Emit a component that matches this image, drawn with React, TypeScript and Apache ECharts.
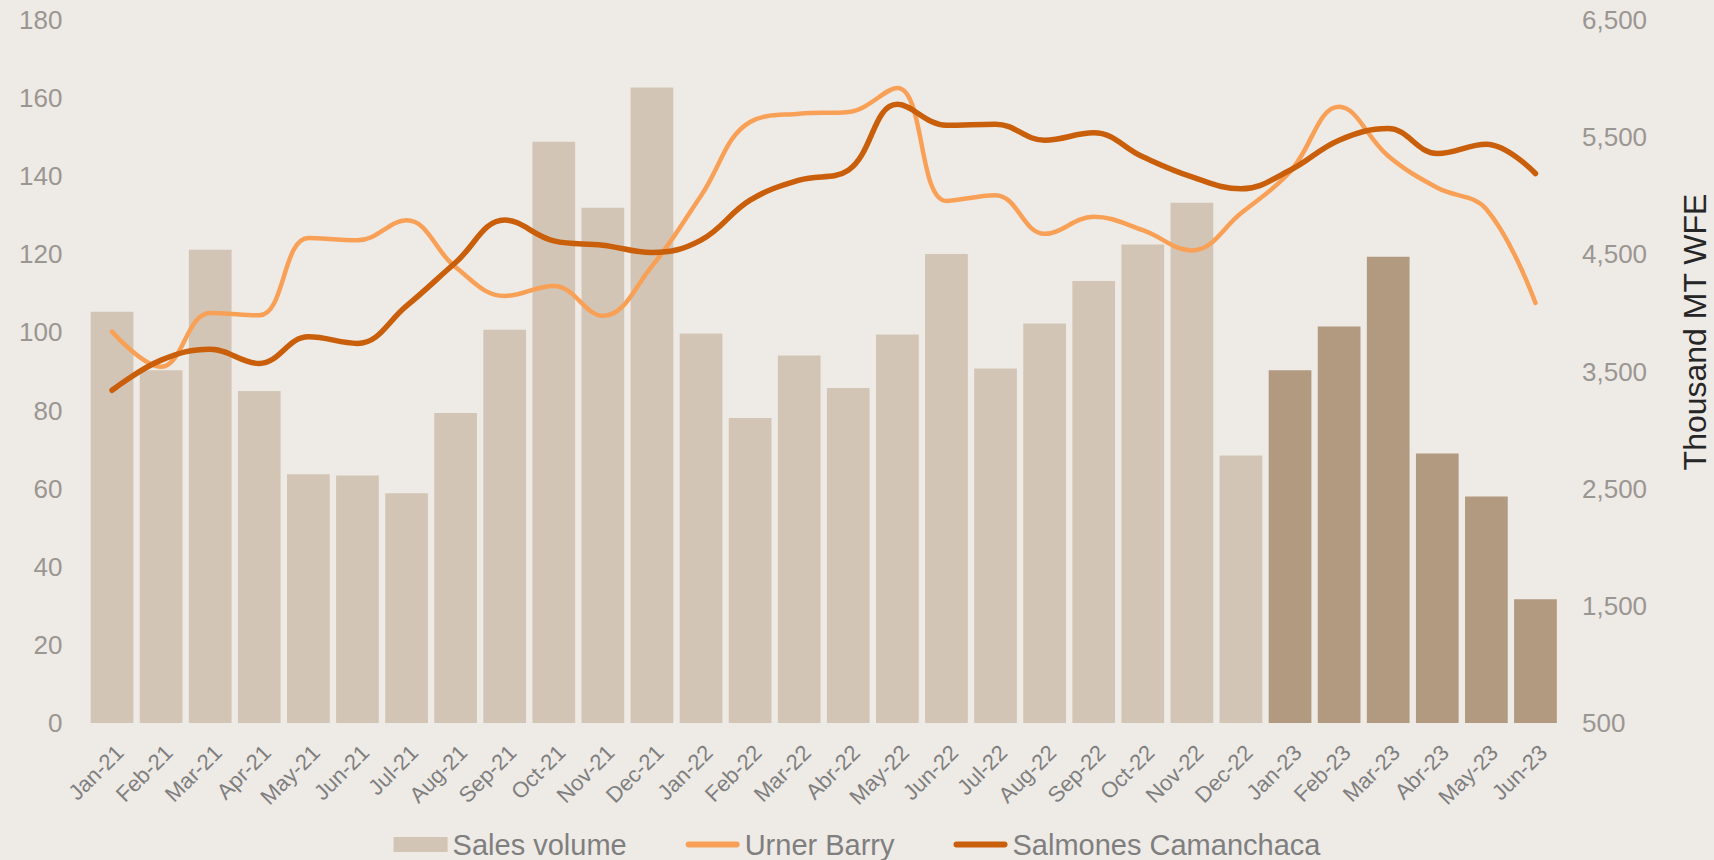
import React, { useEffect, useRef } from "react";
import * as echarts from "echarts";

const categories = [
  "Jan-21", "Feb-21", "Mar-21", "Apr-21", "May-21", "Jun-21", "Jul-21", "Aug-21", "Sep-21", "Oct-21", "Nov-21", "Dec-21",
  "Jan-22", "Feb-22", "Mar-22", "Abr-22", "May-22", "Jun-22", "Jul-22", "Aug-22", "Sep-22", "Oct-22", "Nov-22", "Dec-22",
  "Jan-23", "Feb-23", "Mar-23", "Abr-23", "May-23", "Jun-23",
];

const salesVolume = [
  105.3, 90.3, 121.2, 85.0, 63.7, 63.4, 58.8, 79.4, 100.7, 148.8, 131.9, 162.7,
  99.7, 78.1, 94.1, 85.8, 99.5, 120.1, 90.8, 102.3, 113.2, 122.5, 133.2, 68.5,
  90.3, 101.5, 119.4, 69.0, 58.0, 31.7,
];

const urnerBarry = [
  3840, 3540, 4000, 3980, 4640, 4620, 4790, 4390, 4145, 4230, 3975, 4400,
  5000, 5630, 5700, 5715, 5920, 4955, 5005, 4675, 4820, 4706, 4533, 4850,
  5205, 5760, 5340, 5068, 4885, 4085,
];

const salmonesCamanchaca = [
  3340, 3597, 3690, 3569, 3796, 3740, 4060, 4430, 4792, 4615, 4578, 4516,
  4621, 4962, 5133, 5218, 5780, 5602, 5611, 5474, 5537, 5332, 5161, 5059,
  5218, 5474, 5573, 5361, 5440, 5190,
];

// first index of the darker (2023) bars
const highlightFrom = 24;

const FONT = "'Liberation Sans', Arial, sans-serif";
const LIGHT_BAR = "#D3C5B5";
const DARK_BAR = "#B19A80";
const LIGHT_LINE = "#F9A057";
const DARK_LINE = "#C95F0A";
const LINE_ICON = "path://M3,0 H51 A3,3 0 0 1 51,6 H3 A3,3 0 0 1 3,0 Z";

export default function App() {
  const ref = useRef<HTMLDivElement>(null);

  useEffect(() => {
    if (!ref.current) return;
    const chart = echarts.init(ref.current, null, { renderer: "svg" });
    chart.setOption({
      animation: false,
      backgroundColor: "#EEEAE6",
      textStyle: { fontFamily: FONT },
      grid: { left: 87.5, right: 154, top: 20, bottom: 137, containLabel: false },
      legend: {
        left: "center",
        top: 830,
        padding: 0,
        itemGap: 59,
        itemWidth: 54,
        itemHeight: 15,
        symbolKeepAspect: true,
        textStyle: { fontSize: 29, lineHeight: 28, color: "#7F7F7F", fontFamily: FONT },
        data: [
          { name: "Sales volume", icon: "rect", itemStyle: { color: LIGHT_BAR } },
          { name: "Urner Barry", icon: LINE_ICON, itemStyle: { color: LIGHT_LINE } },
          { name: "Salmones Camanchaca", icon: LINE_ICON, itemStyle: { color: DARK_LINE } },
        ],
      },
      xAxis: {
        type: "category",
        data: categories,
        axisLine: { show: false },
        axisTick: { show: false },
        axisLabel: {
          rotate: 45,
          interval: 0,
          margin: 18,
          fontSize: 22,
          verticalAlign: "top",
          color: "#7F7F7F",
          fontFamily: FONT,
        },
      },
      yAxis: [
        {
          type: "value",
          min: 0,
          max: 180,
          interval: 20,
          splitLine: { show: false },
          axisLine: { show: false },
          axisTick: { show: false },
          axisLabel: { fontSize: 26, color: "#9A9692", margin: 25, fontFamily: FONT },
        },
        {
          type: "value",
          position: "right",
          min: 500,
          max: 6500,
          interval: 1000,
          splitLine: { show: false },
          axisLine: { show: false },
          axisTick: { show: false },
          axisLabel: {
            fontSize: 26,
            color: "#9A9692",
            margin: 22,
            fontFamily: FONT,
            formatter: (v: number) => v.toLocaleString("en-US"),
          },
        },
      ],
      graphic: [
        {
          type: "text",
          x: 1695,
          y: 332,
          rotation: Math.PI / 2,
          style: {
            text: "Thousand MT WFE",
            fontSize: 32,
            fontFamily: FONT,
            fill: "#262626",
            textAlign: "center",
            textVerticalAlign: "middle",
          },
        },
      ],
      series: [
        {
          name: "Sales volume",
          type: "bar",
          yAxisIndex: 0,
          barCategoryGap: "13%",
          itemStyle: { color: LIGHT_BAR },
          data: salesVolume.map((v, i) => ({
            value: v,
            itemStyle: { color: i >= highlightFrom ? DARK_BAR : LIGHT_BAR },
          })),
        },
        {
          name: "Urner Barry",
          type: "line",
          yAxisIndex: 1,
          smooth: 0.4,
          symbol: "none",
          itemStyle: { color: LIGHT_LINE },
          lineStyle: { color: LIGHT_LINE, width: 4.5, cap: "round" },
          data: urnerBarry,
        },
        {
          name: "Salmones Camanchaca",
          type: "line",
          yAxisIndex: 1,
          smooth: 0.4,
          symbol: "none",
          itemStyle: { color: DARK_LINE },
          lineStyle: { color: DARK_LINE, width: 5.5, cap: "round" },
          data: salmonesCamanchaca,
        },
      ],
    });
    return () => chart.dispose();
  }, []);

  return (
    <div
      ref={ref}
      style={{ position: "fixed", left: 0, top: 0, width: 1714, height: 860 }}
    />
  );
}
